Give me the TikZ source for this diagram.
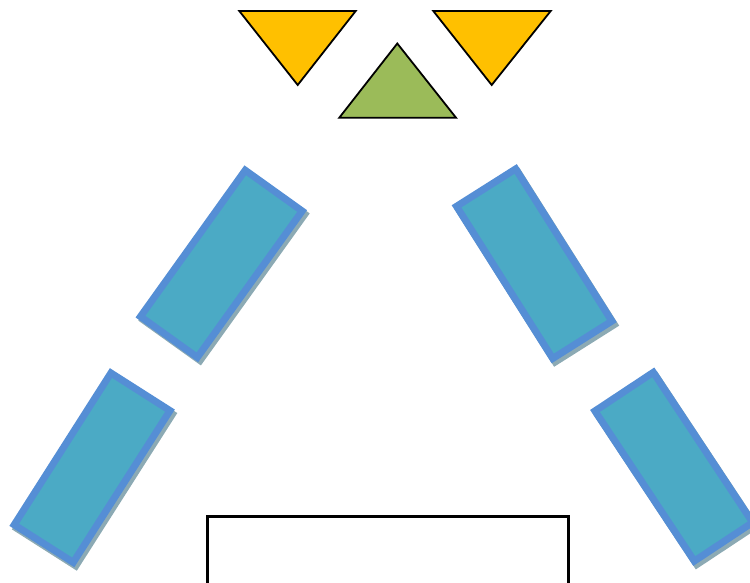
\documentclass[tikz,border=0pt]{standalone}
\usetikzlibrary{shapes.geometric}
\definecolor{tyellow}{RGB}{255,192,0}
\definecolor{tgreen}{RGB}{155,187,89}
\definecolor{bfill}{RGB}{75,170,197}
\definecolor{bline}{RGB}{85,142,213}
\definecolor{bshadow}{RGB}{140,170,180}
\tikzset{
  tri/.style={draw=black, line width=1.8pt, line join=miter},
  blk/.style={rectangle, inner sep=0pt, minimum width=70pt, minimum height=180pt,
              fill=bfill, draw=bline, line width=7pt},
  blkshadow/.style={rectangle, inner sep=0pt, minimum width=70pt, minimum height=180pt,
              fill=bshadow, draw=bshadow, line width=7pt},
  base/.style={draw=black, line width=2.2pt}
}
\begin{document}
\begin{tikzpicture}[x=1pt,y=-1pt]
\useasboundingbox (0,0) rectangle (750,583);
\clip (0,0) rectangle (750,583);
% triangles
\draw[tri, fill=tyellow] (239.3,11) -- (355.7,11) -- (297.7,85) -- cycle;
\draw[tri, fill=tyellow] (433.3,11) -- (550.7,11) -- (491.7,85) -- cycle;
\draw[tri, fill=tgreen] (397.3,43.5) -- (456,117.7) -- (339.3,117.7) -- cycle;
% shadows
\node[blkshadow, rotate=-35.6] (s1) at (224,267) {};
\node[blkshadow, rotate=32.3] (s2) at (536.7,267.2) {};
\node[blkshadow, rotate=-32.5] (s3) at (94.6,471.2) {};
\node[blkshadow, rotate=33.5] (s4) at (676.3,470.2) {};
% blocks
\node[blk, rotate=-35.6] (b1) at (221.3,263.8) {};
\node[blk, rotate=32.3] (b2) at (534.2,263.7) {};
\node[blk, rotate=-32.5] (b3) at (92.1,467.7) {};
\node[blk, rotate=33.5] (b4) at (673.8,466.7) {};
% base rectangle
\draw[base] (207.5,516.5) rectangle (568.5,600);
\end{tikzpicture}
\end{document}
